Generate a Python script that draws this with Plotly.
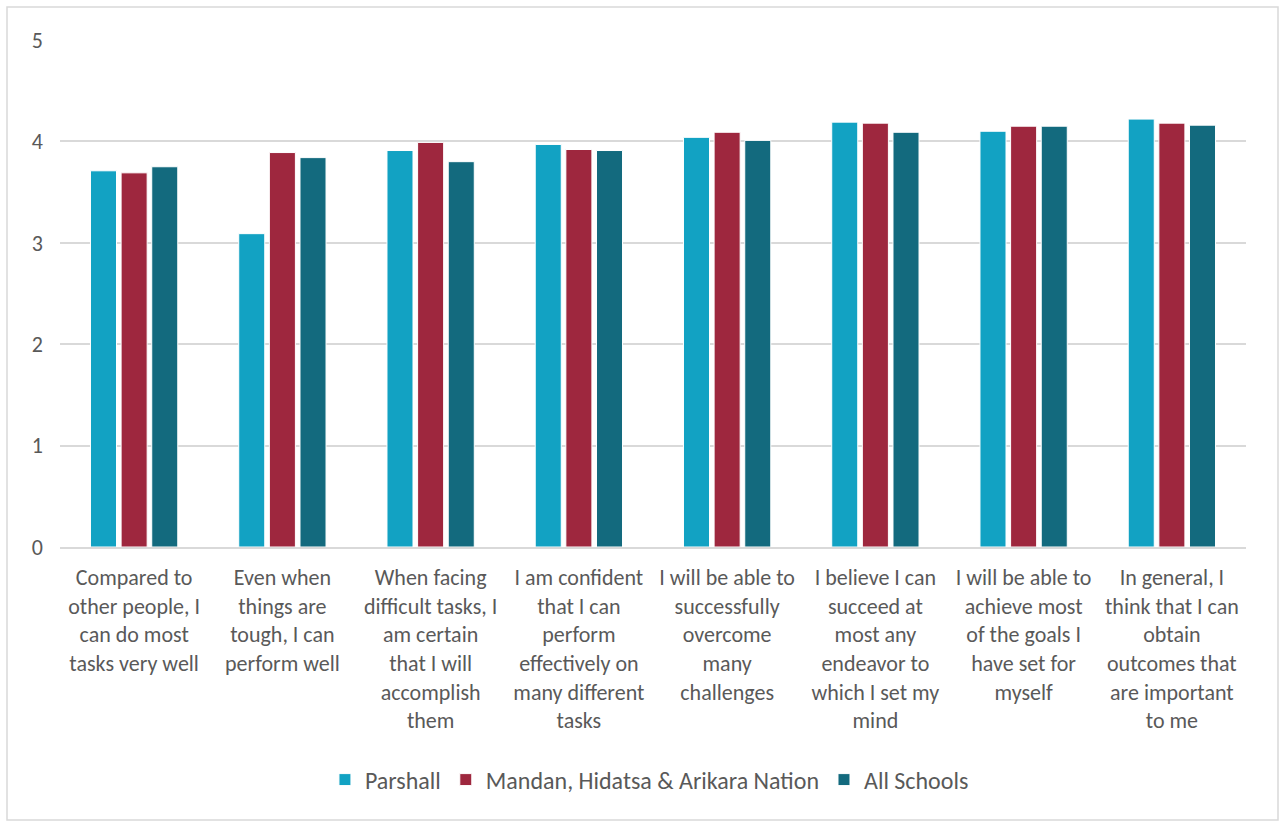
import plotly.graph_objects as go

categories = [
    "Compared to<br>other people, I<br>can do most<br>tasks very well",
    "Even when<br>things are<br>tough, I can<br>perform well",
    "When facing<br>difficult tasks, I<br>am certain<br>that I will<br>accomplish<br>them",
    "I am confident<br>that I can<br>perform<br>effectively on<br>many different<br>tasks",
    "I will be able to<br>successfully<br>overcome<br>many<br>challenges",
    "I believe I can<br>succeed at<br>most any<br>endeavor to<br>which I set my<br>mind",
    "I will be able to<br>achieve most<br>of the goals I<br>have set for<br>myself",
    "In general, I<br>think that I can<br>obtain<br>outcomes that<br>are important<br>to me",
]
parshall = [3.71, 3.09, 3.91, 3.97, 4.04, 4.19, 4.10, 4.22]
mandan = [3.69, 3.89, 3.99, 3.92, 4.09, 4.18, 4.15, 4.18]
all_schools = [3.75, 3.84, 3.80, 3.91, 4.01, 4.09, 4.15, 4.16]

series = [
    ("Parshall", parshall, "#12A2C3"),
    ("Mandan, Hidatsa & Arikara Nation", mandan, "#9E273E"),
    ("All Schools", all_schools, "#136A7E"),
]

FONT = "Carlito, 'Liberation Sans Narrow', Calibri, Lato, sans-serif"

fig = go.Figure()
for name, vals, col in series:
    fig.add_trace(go.Bar(
        x=categories, y=vals, name=name,
        marker=dict(color=col, line=dict(color="white", width=1)),
    ))

L, R, T, B = 60, 34, 40, 276
W, H = 1280, 823
pw = W - L - R
ph = H - T - B

fig.update_layout(
    width=W, height=H,
    margin=dict(l=L, r=R, t=T, b=B),
    paper_bgcolor="white", plot_bgcolor="white",
    barmode="group", bargap=0.38, bargroupgap=0.15,
    font=dict(family=FONT, size=22, color="#595959"),
    showlegend=True,
    legend=dict(orientation="h", x=0.497, xanchor="center",
                y=(T + ph - 780) / ph, yanchor="middle",
                font=dict(size=24, color="#595959"),
                itemwidth=30, traceorder="normal"),
    yaxis=dict(range=[0, 5], dtick=1, showgrid=True, gridcolor="#D9D9D9",
               gridwidth=1.5, zeroline=False, showline=False,
               ticks="", ticklabelstandoff=16,
               tickfont=dict(size=22, color="#595959")),
    xaxis=dict(showline=True, linecolor="#D9D9D9", linewidth=1.5,
               ticks="", tickangle=0, ticklabelstandoff=10,
               tickfont=dict(size=22, color="#595959")),
    shapes=[dict(type="rect", xref="paper", yref="paper",
                 x0=(7 - L) / pw, x1=(1278 - L) / pw,
                 y0=(T + ph - 820) / ph, y1=(T + ph - 7) / ph,
                 line=dict(color="#D9D9D9", width=1.5), layer="below")],
)

fig.write_html("out.html")
